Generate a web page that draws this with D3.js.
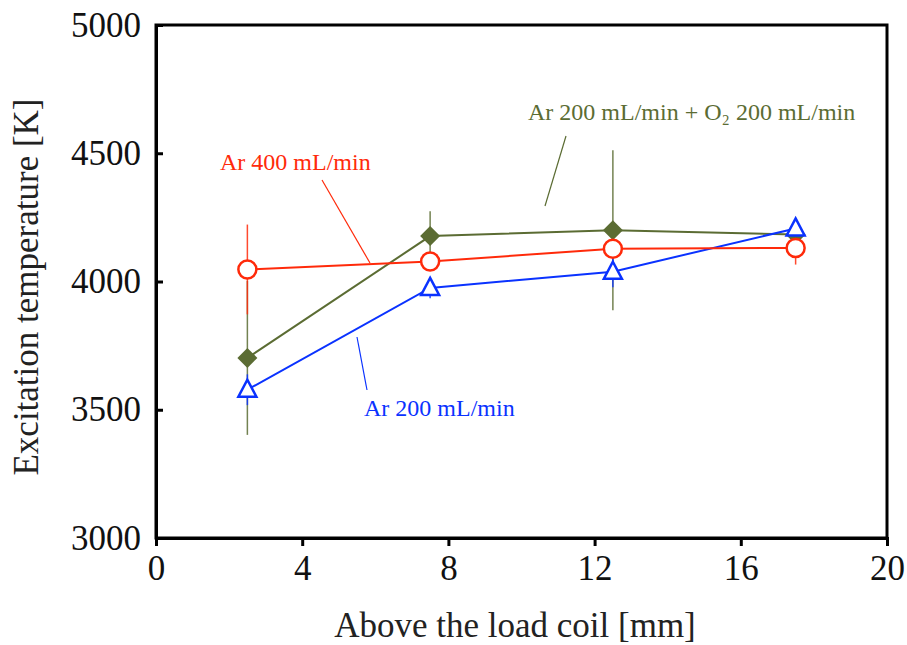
<!DOCTYPE html>
<html>
<head>
<meta charset="utf-8">
<script src="https://cdn.jsdelivr.net/npm/d3@7"></script>
<style>
  body { margin: 0; background: #fff; }
  text { font-family: "Liberation Serif", "Times New Roman", serif; }
</style>
</head>
<body>
<div id="chart-area"></div>
<script>
var positions = [2.5, 7.5, 12.5, 17.5];

var ar400 = [4047, 4078, 4128, 4131];
var ar400Err = [175, 30, 30, 65];

var ar200 = [3578, 3975, 4038, 4207];
var ar200Err = [60, 40, 60, 30];

var arO2 = [3702, 4177, 4200, 4183];
var arO2Err = [300, 97, 312, 40];

var xTicks = [0, 4, 8, 12, 16, 20];
var yTicks = [3000, 3500, 4000, 4500, 5000];

var red = '#ff2a0a', blue = '#0a32ff', olive = '#5b6c33';
var serif = 'Liberation Serif, Times New Roman, serif';

var width = 907, height = 645;
var margin = {left: 156, top: 25, right: 20, bottom: 107};

var svg = d3.select('#chart-area').append('svg')
    .attr('width', width)
    .attr('height', height);

var x = d3.scaleLinear().domain([0, 20]).range([margin.left, width - margin.right]);
var y = d3.scaleLinear().domain([3000, 5000]).range([height - margin.bottom, margin.top]);

// frame
svg.append('rect')
    .attr('x', x(0)).attr('y', y(5000))
    .attr('width', x(20) - x(0)).attr('height', y(3000) - y(5000))
    .attr('fill', 'none').attr('stroke', 'black').attr('stroke-width', 3);

var xAxis = svg.append('g')
    .attr('transform', 'translate(0,' + y(3000) + ')')
    .call(d3.axisBottom(x).tickValues(xTicks).tickSize(8).tickPadding(9));
var yAxis = svg.append('g')
    .attr('transform', 'translate(' + x(0) + ',0)')
    .call(d3.axisLeft(y).tickValues(yTicks).tickFormat(d3.format('d')).tickSize(-7).tickPadding(15));

[xAxis, yAxis].forEach(g => {
    g.attr('font-family', serif);
    g.select('.domain').attr('stroke-width', 3);
    g.selectAll('.tick line').attr('stroke-width', 3);
    g.selectAll('text').attr('font-size', 35).attr('fill', '#111');
});

svg.append('text')
    .attr('x', 515).attr('y', 637)
    .attr('text-anchor', 'middle').attr('font-size', 35).attr('fill', '#222')
    .attr('font-family', serif)
    .text('Above the load coil [mm]');

svg.append('text')
    .attr('transform', 'translate(38,' + 287 + ') rotate(-90)')
    .attr('text-anchor', 'middle').attr('font-size', 35).attr('fill', '#222')
    .attr('font-family', serif)
    .text('Excitation temperature [K]');

var series = [
    {vals: arO2, err: arO2Err, color: olive, shape: 'diamond'},
    {vals: ar200, err: ar200Err, color: blue, shape: 'triangle'},
    {vals: ar400, err: ar400Err, color: red, shape: 'circle'}
];

// error bars
series.forEach(s => {
    svg.selectAll(null).data(positions).enter().append('line')
        .attr('x1', d => x(d)).attr('x2', d => x(d))
        .attr('y1', (d, i) => y(s.vals[i] + s.err[i]))
        .attr('y2', (d, i) => y(s.vals[i] - s.err[i]))
        .attr('stroke', s.color).attr('stroke-width', 1.5)
        .attr('stroke-opacity', 0.85);
});

// lines
var line = d3.line().x(d => x(d[0])).y(d => y(d[1]));
series.forEach(s => {
    svg.append('path')
        .attr('d', line(positions.map((p, i) => [p, s.vals[i]])))
        .attr('fill', 'none').attr('stroke', s.color).attr('stroke-width', 2);
});

// markers
series.forEach(s => {
    var g = svg.selectAll(null).data(positions).enter().append('g')
        .attr('transform', (d, i) => 'translate(' + x(d) + ',' + y(s.vals[i]) + ')');
    if (s.shape === 'circle') {
        g.append('circle').attr('r', 9).attr('fill', 'white')
            .attr('stroke', s.color).attr('stroke-width', 2.5);
    } else if (s.shape === 'diamond') {
        g.append('path').attr('d', 'M0,-10L10,0L0,10L-10,0Z').attr('fill', s.color);
    } else {
        g.append('path').attr('d', 'M0,-10L9,7L-9,7Z').attr('fill', 'white')
            .attr('stroke', s.color).attr('stroke-width', 2.5);
    }
});

// labels with callout lines
var labels = [
    {text: 'Ar 400 mL/min', color: red, tx: 220, ty: 170, l: [[322, 180], [370, 263]]},
    {text: 'Ar 200 mL/min', color: blue, tx: 364, ty: 416, l: [[357, 337], [367, 390]]},
    {text: 'Ar 200 mL/min + O\u2082 200 mL/min', color: olive, tx: 528, ty: 120, l: [[566, 136], [545, 206]]}
];
labels.forEach(d => {
    svg.append('text').attr('x', d.tx).attr('y', d.ty)
        .attr('font-size', 24).attr('fill', d.color).attr('font-family', serif).text(d.text);
    svg.append('line')
        .attr('x1', d.l[0][0]).attr('y1', d.l[0][1])
        .attr('x2', d.l[1][0]).attr('y2', d.l[1][1])
        .attr('stroke', d.color).attr('stroke-width', 1.2);
});
</script>
</body>
</html>
